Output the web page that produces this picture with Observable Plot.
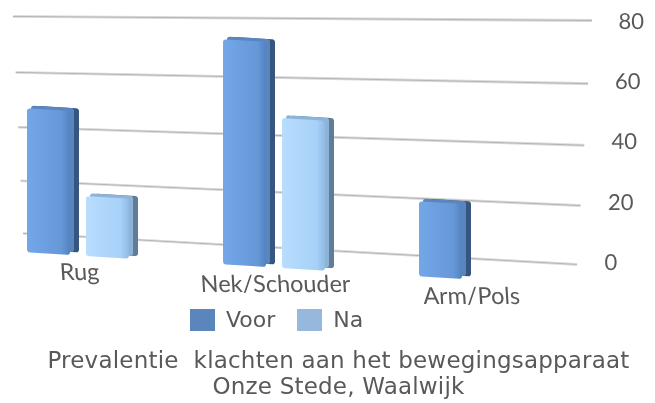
<!DOCTYPE html>
<html>
<head>
<meta charset="utf-8">
<script src="https://cdn.jsdelivr.net/npm/d3@7"></script>
<script src="https://cdn.jsdelivr.net/npm/@observablehq/plot@0.6"></script>
<style>
  html, body { margin: 0; padding: 0; background: #fff; }
  #chart { position: relative; width: 655px; height: 403px; overflow: hidden; }
  #wall, #bars, #ticks { position: absolute; left: 0; top: 0; }
  #wall svg, #bars svg, #ticks svg { transform-origin: 0 0; }
  #legend { position: absolute; left: 190px; top: 303px; }
  #caption { position: absolute; left: 0; top: 347px; width: 677px; text-align: center;
             font-family: "DejaVu Sans", sans-serif; font-size: 23px; line-height: 26px;
             letter-spacing: 0.2px; color: #595959; white-space: pre; }
</style>
</head>
<body>
<svg width="0" height="0" style="position:absolute">
  <defs>
    <linearGradient id="gVoor" x1="0" x2="1" y1="0" y2="0">
      <stop offset="0" stop-color="#74a7e8"/>
      <stop offset="0.8" stop-color="#6698d8"/>
      <stop offset="1" stop-color="#5282c2"/>
    </linearGradient>
    <linearGradient id="gNa" x1="0" x2="1" y1="0" y2="0">
      <stop offset="0" stop-color="#b8ddfe"/>
      <stop offset="0.8" stop-color="#a7d1f8"/>
      <stop offset="1" stop-color="#90bbe3"/>
    </linearGradient>
  </defs>
</svg>
<div id="chart">
  <div id="wall"></div>
  <div id="ticks"></div>
  <div id="bars"></div>
  <div id="legend"></div>
  <div id="caption">Prevalentie  klachten aan het bewegingsapparaat
Onze Stede, Waalwijk</div>
</div>
<script>
// ---- data ----
const categories = ["Rug", "Nek/Schouder", "Arm/Pols"];
const series = ["Voor", "Na"];
const voor = [48, 75, 25];
const na = [20, 50, null];
const yTicks = [0, 20, 40, 60, 80];
const yDomain = [0, 80];

const rows = [];
categories.forEach((c, i) => {
  if (voor[i] != null) rows.push({cat: c, series: "Voor", value: voor[i]});
  if (na[i] != null) rows.push({cat: c, series: "Na", value: na[i]});
});
const rowsVoor = rows.filter(d => d.series === "Voor");
const rowsNa = rows.filter(d => d.series === "Na");

// ---- perspective helper (view transform of the back wall) ----
function homography(src, dst) {
  const A = [], b = [];
  for (let i = 0; i < 4; i++) {
    const [x, y] = src[i], [X, Y] = dst[i];
    A.push([x, y, 1, 0, 0, 0, -x * X, -y * X]); b.push(X);
    A.push([0, 0, 0, x, y, 1, -x * Y, -y * Y]); b.push(Y);
  }
  const n = 8;
  for (let c = 0; c < n; c++) {
    let p = c;
    for (let r = c + 1; r < n; r++) if (Math.abs(A[r][c]) > Math.abs(A[p][c])) p = r;
    [A[c], A[p]] = [A[p], A[c]]; [b[c], b[p]] = [b[p], b[c]];
    for (let r = 0; r < n; r++) {
      if (r === c) continue;
      const f = A[r][c] / A[c][c];
      for (let k = c; k < n; k++) A[r][k] -= f * A[c][k];
      b[r] -= f * b[c];
    }
  }
  const h = b.map((v, i) => v / A[i][i]);
  return `matrix3d(${h[0]},${h[3]},0,${h[6]},${h[1]},${h[4]},0,${h[7]},0,0,1,0,${h[2]},${h[5]},0,1)`;
}

// ---- back wall: gridlines ----
const wall = Plot.plot({
  width: 655, height: 300,
  marginLeft: 13, marginRight: 63, marginTop: 16, marginBottom: 36,
  style: {background: "transparent"},
  y: {domain: yDomain, axis: null},
  marks: [
    Plot.ruleY(yTicks, {stroke: "#b5b5b5", strokeWidth: 2})
  ]
});
wall.style.transform = homography(
  [[13, 16], [592, 16], [592, 264], [13, 264]],
  [[13, 16], [592, 20], [577, 264], [23, 233]]
);
document.getElementById("wall").appendChild(wall);

// ---- value labels on the right ----
const ticks = Plot.plot({
  width: 655, height: 300,
  marginLeft: 13, marginRight: 63, marginTop: 10, marginBottom: 49.7,
  style: {background: "transparent", fontFamily: "Lato, sans-serif", fontSize: "22px", color: "#595959", overflow: "visible"},
  y: {domain: yDomain, axis: null},
  marks: [
    Plot.text(yTicks, {y: d => d, text: d => String(d), frameAnchor: "right", dx: 27,
                       textAnchor: "start", rotate: -3.5, fill: "#595959"})
  ]
});
ticks.style.transform = "matrix(1, 0.0612, -0.058, 1, -0.4, -26.2)";
document.getElementById("ticks").appendChild(ticks);

// ---- bars ----
const common = {fx: "cat", x: "series", y: "value"};
const bars = Plot.plot({
  width: 655, height: 300,
  marginLeft: 6, marginRight: 112, marginTop: 10.7, marginBottom: 49.3,
  style: {background: "transparent", fontFamily: "Lato, sans-serif", fontSize: "23.5px", color: "#595959", overflow: "visible"},
  fx: {domain: categories, paddingInner: 0.472, paddingOuter: 0.1, label: null, tickSize: 0, tickPadding: 7, tickRotate: -3.5},
  x: {domain: series, paddingInner: 0.2667, paddingOuter: 0, axis: null},
  y: {domain: yDomain, axis: null},
  marks: [
    Plot.barY(rowsVoor, {...common, fill: "#36557f", dx: 9, dy: -3, rx: 3}),
    Plot.barY(rowsNa, {...common, fill: "#5f7c98", dx: 9, dy: -3, rx: 3}),
    Plot.barY(rowsVoor, {...common, fill: "#5a86c0", dx: 4, dy: -3, rx: 3}),
    Plot.barY(rowsNa, {...common, fill: "#8db3d6", dx: 4, dy: -3, rx: 3}),
    Plot.barY(rowsVoor, {...common, fill: "url(#gVoor)", rx: 3}),
    Plot.barY(rowsNa, {...common, fill: "url(#gNa)", rx: 3})
  ]
});
bars.style.transform = "skewY(3.5deg)";
document.getElementById("bars").appendChild(bars);

// ---- legend ----
const legend = Plot.legend({
  color: {type: "ordinal", domain: series, range: ["#5b86bc", "#95b8dc"]},
  legend: "swatches",
  swatchWidth: 25, swatchHeight: 22,
  style: {fontFamily: "DejaVu Sans, sans-serif", fontSize: "22px", color: "#595959"}
});
document.getElementById("legend").appendChild(legend);
</script>
</body>
</html>
